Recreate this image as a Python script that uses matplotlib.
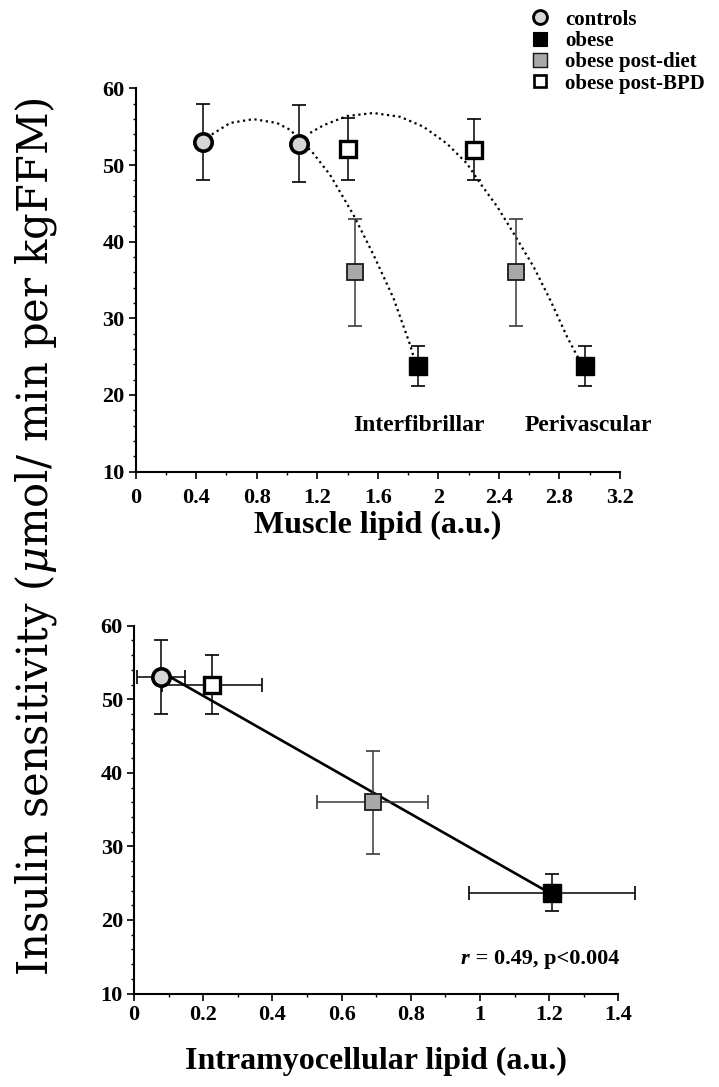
import matplotlib
matplotlib.use('Agg')
import matplotlib.pyplot as plt
from matplotlib.lines import Line2D
from matplotlib.ticker import MultipleLocator

plt.rcParams['font.family'] = ['Liberation Serif', 'DejaVu Serif']
plt.rcParams['font.weight'] = 'bold'
plt.rcParams['mathtext.fontset'] = 'custom'
plt.rcParams['mathtext.it'] = 'DejaVu Serif:style=italic:weight=normal'
plt.rcParams['mathtext.rm'] = 'DejaVu Serif:weight=normal'

# groups, in legend order
groups = ['controls', 'obese', 'obese post-diet', 'obese post-BPD']

# top panel: muscle lipid, interfibrillar and perivascular
inter_x = [0.443, 1.865, 1.447, 1.406]
peri_x = [1.082, 2.97, 2.515, 2.233]
inter_y = [53.0, 23.8, 36.0, 52.1]
peri_y = [52.8, 23.8, 36.0, 52.0]
sens_err = [5.0, 2.6, 7.0, 4.0]

# dotted trend curves
curve1_x = [0.503, 0.624, 0.778, 0.933, 1.021, 1.175, 1.285, 1.439, 1.571, 1.704, 1.814, 1.836]
curve1_y = [54.0, 55.5, 56.0, 55.5, 54.6, 51.5, 48.7, 43.5, 38.3, 32.6, 26.5, 25.0]
curve2_x = [1.153, 1.241, 1.396, 1.571, 1.748, 1.902, 2.057, 2.189, 2.277, 2.388, 2.497,
            2.630, 2.739, 2.850, 2.925]
curve2_y = [54.2, 55.2, 56.4, 56.8, 56.3, 55.0, 52.8, 50.2, 47.6, 44.6, 41.1,
            36.7, 32.4, 27.6, 24.8]

# bottom panel: intramyocellular lipid
imcl_x = [0.078, 1.208, 0.690, 0.226]
imcl_xerr = [0.07, 0.24, 0.16, 0.145]
imcl_y = [53.0, 23.7, 36.0, 52.0]
imcl_yerr = [5.0, 2.55, 7.0, 4.0]
reg_x = [0.109, 1.193]
reg_y = [52.9, 23.9]

styles = {
    'controls': dict(marker='o', mfc='#d6d6d6', mec='black', mew=2.6, ms=12.5),
    'obese': dict(marker='s', mfc='black', mec='black', mew=1.0, ms=13),
    'obese post-diet': dict(marker='s', mfc='#a9a9a9', mec='#1a1a1a', mew=1.3, ms=12),
    'obese post-BPD': dict(marker='s', mfc='white', mec='black', mew=2.4, ms=11.5),
}

fig = plt.figure(figsize=(7.19, 10.87), dpi=100)
ax1 = fig.add_axes([0.1887, 0.5662, 0.6736, 0.3524])
ax2 = fig.add_axes([0.1864, 0.0860, 0.6736, 0.3384])


def style_axes(ax, xmax, xmaj, xmin, xpad):
    ax.set_xlim(0, xmax)
    ax.set_ylim(10, 60)
    for s in ['top', 'right']:
        ax.spines[s].set_visible(False)
    for s in ['left', 'bottom']:
        ax.spines[s].set_linewidth(1.5)
    ax.xaxis.set_major_locator(MultipleLocator(xmaj))
    ax.xaxis.set_minor_locator(MultipleLocator(xmin))
    ax.yaxis.set_major_locator(MultipleLocator(10))
    ax.yaxis.set_minor_locator(MultipleLocator(2))
    ax.tick_params(which='major', direction='out', length=5, width=1.2, labelsize=16)
    ax.tick_params(which='minor', direction='out', length=2.5, width=1.0)
    ax.tick_params(axis='x', which='major', pad=xpad)
    ax.tick_params(axis='y', which='major', pad=3)


style_axes(ax1, 3.2, 0.4, 0.2, 7)
ax1.set_xticklabels([('%g' % v) for v in ax1.get_xticks()])
style_axes(ax2, 1.4, 0.2, 0.1, 3)
ax2.set_xticklabels([('%g' % v) for v in ax2.get_xticks()])

dot = (0, (1, 1.6))
ax1.plot(curve1_x, curve1_y, color='black', lw=1.6, ls=dot, zorder=2)
ax1.plot(curve2_x, curve2_y, color='black', lw=1.6, ls=dot, zorder=2)

for i, g in enumerate(groups):
    ec = '#3a3a3a' if g == 'obese post-diet' else 'black'
    for xs, ys in [(inter_x, inter_y), (peri_x, peri_y)]:
        ax1.errorbar(xs[i], ys[i], yerr=sens_err[i], fmt='none', ecolor=ec,
                     elinewidth=1.1, capsize=5, capthick=1.2, zorder=3, clip_on=False)
        ax1.plot(xs[i], ys[i], ls='none', zorder=4, clip_on=False, **styles[g])

ax1.text(1.437, 15.3, 'Interfibrillar', fontsize=17, fontweight='bold')
ax1.text(2.57, 15.3, 'Perivascular', fontsize=17, fontweight='bold')
ax1.set_xlabel('Muscle lipid (a.u.)', fontsize=23, fontweight='bold', labelpad=2)

ax2.plot(reg_x, reg_y, color='black', lw=1.9, zorder=2)
for i, g in enumerate(groups):
    ec = '#3a3a3a' if g == 'obese post-diet' else 'black'
    ax2.errorbar(imcl_x[i], imcl_y[i], xerr=imcl_xerr[i], yerr=imcl_yerr[i], fmt='none',
                 ecolor=ec, elinewidth=1.1, capsize=5, capthick=1.2, zorder=3, clip_on=False)
    ax2.plot(imcl_x[i], imcl_y[i], ls='none', zorder=4, clip_on=False, **styles[g])

t_r = ax2.text(0.945, 14.0, 'r', fontsize=16, fontweight='bold', style='italic')
ax2.annotate(' = 0.49, p<0.004', xy=(1, 0), xycoords=t_r, va='bottom', ha='left',
             fontsize=16, fontweight='bold')
ax2.set_xlabel('Intramyocellular lipid (a.u.)', fontsize=23, fontweight='bold', labelpad=16)

fig.text(0.050, 0.506, r'Insulin sensitivity ($\mu$mol/ min per kgFFM)', rotation=90,
         ha='center', va='center', fontsize=30, fontweight='normal',
         family=['DejaVu Serif'])

handles = [Line2D([], [], ls='none', **dict(styles[g], ms=styles[g]['ms'] * 0.8,
                                            mew=styles[g]['mew'] * 0.8)) for g in groups]
fig.legend(handles, groups, loc='upper left', bbox_to_anchor=(0.737, 0.991), frameon=False,
           handlelength=1.0, handletextpad=0.7, labelspacing=0.06,
           borderpad=0, borderaxespad=0, prop={'weight': 'bold', 'size': 15})

fig.savefig('out.png', dpi=100)
